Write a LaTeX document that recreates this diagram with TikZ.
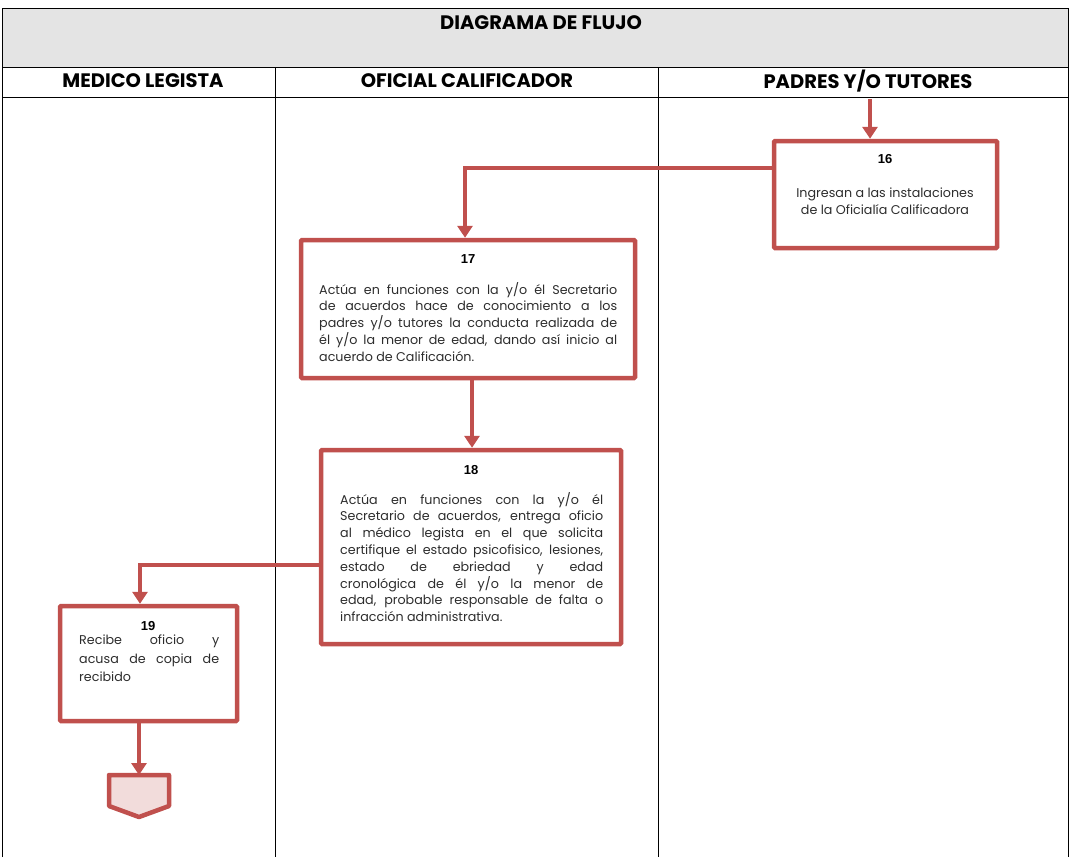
\documentclass[tikz,border=0pt]{standalone}
\usepackage{fontspec}
\setmainfont{Poppins}
\newfontfamily\arialf{Liberation Sans}
\usetikzlibrary{arrows.meta,shadows}
\definecolor{boxred}{RGB}{192,80,77}
\definecolor{hdrgray}{RGB}{228,228,228}
\definecolor{txtgray}{RGB}{45,45,45}
\definecolor{connpink}{RGB}{242,220,219}
\tikzset{
  procbox/.style={draw=boxred, line width=4.5pt, fill=white, rounded corners=1pt,
    drop shadow={shadow xshift=1.5pt, shadow yshift=-1.5pt, opacity=0.35}, inner sep=0pt},
  flow/.style={draw=boxred, line width=4.5pt, -{Triangle[width=15pt,length=12pt]}},
  numtxt/.style={font=\arialf\bfseries\fontsize{13}{15}\selectfont, text=black, inner sep=0pt},
  bodytxt/.style={font=\fontsize{12.7}{16.8}\selectfont, text=txtgray, inner sep=0pt, align=justify},
  hdrtxt/.style={font=\bfseries\fontsize{19.5}{22}\selectfont, text=black, inner sep=0pt},
  grid/.style={draw=black, line width=0.9pt}
}
\begin{document}
\begin{tikzpicture}[x=1pt,y=-1pt]
\useasboundingbox (0,0) rectangle (1070,857);
% table
\fill[hdrgray] (2,8) rectangle (1068,67);
\draw[grid] (2,857) -- (2,8) -- (1068,8) -- (1068,857);
\draw[grid] (2,67) -- (1068,67);
\draw[grid] (2,97) -- (1068,97);
\draw[grid] (275,67) -- (275,857);
\draw[grid] (658,67) -- (658,857);
\node[hdrtxt] (title) at (541,23) {DIAGRAMA DE FLUJO};
\node[hdrtxt] (h1) at (143,81) {MEDICO LEGISTA};
\node[hdrtxt] (h2) at (467,81) {OFICIAL CALIFICADOR};
\node[hdrtxt] (h3) at (868,81) {PADRES Y/O TUTORES};
% boxes
\node[procbox, minimum width=223pt, minimum height=107pt] (b16) at (885.5,194.5) {};
\node[procbox, minimum width=334pt, minimum height=138pt] (b17) at (468,309) {};
\node[procbox, minimum width=300pt, minimum height=194pt] (b18) at (471,547) {};
\node[procbox, minimum width=177pt, minimum height=115pt] (b19) at (148.5,663.5) {};
% texts
\node[numtxt] (n16) at (885,159) {16};
\node[bodytxt, align=center] (t16) at (885,201) {Ingresan a las instalaciones\\de la Oficialía Calificadora};
\node[numtxt] (n17) at (468,259) {17};
\node[bodytxt, text width=298pt, anchor=north west] (t17) at (319,282) {Actúa en funciones con la y/o él Secretario\linebreak de acuerdos hace de conocimiento a los\linebreak padres y/o tutores la conducta realizada de\linebreak él y/o la menor de edad, dando así inicio al\linebreak acuerdo de Calificación.};
\node[numtxt] (n18) at (471,470) {18};
\node[bodytxt, text width=263pt, anchor=north west] (t18) at (340,492) {Actúa en funciones con la y/o él\linebreak Secretario de acuerdos, entrega oficio\linebreak al médico legista en el que solicita\linebreak certifique el estado psicofisico, lesiones,\linebreak estado de ebriedad y edad\linebreak cronológica de él y/o la menor de\linebreak edad, probable responsable de falta o\linebreak infracción administrativa.};
\node[numtxt] (n19) at (148,626) {19};
\node[bodytxt, font=\fontsize{12.7}{18.5}\selectfont, text width=140pt, anchor=north west] (t19) at (79,635) {Recibe oficio y\linebreak acusa de copia de\linebreak recibido};
% off-page connector
\draw[draw=boxred, line width=4.5pt, fill=connpink, line join=round,
  drop shadow={shadow xshift=1.5pt, shadow yshift=-1.5pt, opacity=0.35}]
  (109,775) -- (169,775) -- (169,806) -- (139,817) -- (109,806) -- cycle;
\coordinate (conn) at (139,775);
\coordinate (in16) at (870,99);
% connectors
\draw[flow] (in16) -- (in16 |- b16.north);
\draw[flow] (b16.west |- 0,168) -| (465,0 |- b17.north);
\draw[flow] (472,0 |- b17.south) -- (472,0 |- b18.north);
\draw[flow] (b18.west |- 0,565) -| (140,0 |- b19.north);
\draw[flow] (conn |- b19.south) -- (conn);
\end{tikzpicture}
\end{document}
